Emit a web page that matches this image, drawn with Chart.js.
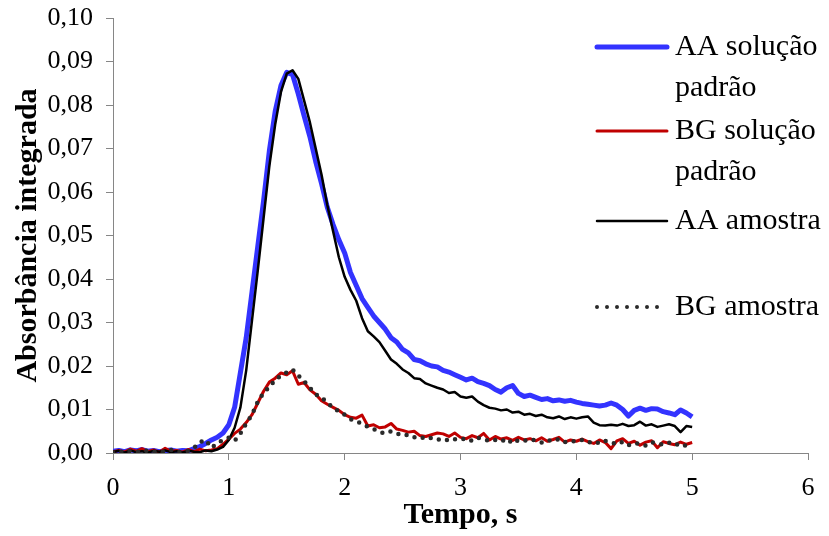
<!DOCTYPE html>
<html>
<head>
<meta charset="utf-8">
<script src="https://cdn.jsdelivr.net/npm/chart.js@4.4.1/dist/chart.umd.min.js"></script>
<style>
html,body{margin:0;padding:0;background:#fff;}
#wrap{width:829px;height:536px;position:relative;}
</style>
</head>
<body>
<div id="wrap"><canvas id="c" width="829" height="536"></canvas></div>
<script>
// time axis (s)
const times = [0,0.05,0.1,0.15,0.2,0.25,0.3,0.35,0.4,0.45,0.5,0.55,0.6,0.65,0.7,0.75,0.8,0.85,0.9,0.95,
1,1.05,1.1,1.15,1.2,1.25,1.3,1.35,1.4,1.45,1.5,1.55,1.6,1.65,1.7,1.75,1.8,1.85,1.9,1.95,
2,2.05,2.1,2.15,2.2,2.25,2.3,2.35,2.4,2.45,2.5,2.55,2.6,2.65,2.7,2.75,2.8,2.85,2.9,2.95,
3,3.05,3.1,3.15,3.2,3.25,3.3,3.35,3.4,3.45,3.5,3.55,3.6,3.65,3.7,3.75,3.8,3.85,3.9,3.95,
4,4.05,4.1,4.15,4.2,4.25,4.3,4.35,4.4,4.45,4.5,4.55,4.6,4.65,4.7,4.75,4.8,4.85,4.9,4.95,5];

const aaPadrao = [0.0004,0.0006,0.0003,0.0007,0.0005,0.0008,0.0004,0.0006,0.0003,0.0005,0.0007,0.0004,0.0006,0.0005,
0.0010,0.0015,0.0022,0.0030,0.0036,0.0046,
0.0065,0.0105,0.0185,0.0265,0.0370,0.0475,0.0580,0.0695,0.0785,0.0845,0.0875,0.0870,0.0825,0.0775,0.0727,0.0670,0.0620,0.0565,0.0525,0.0490,
0.0460,0.0415,0.0385,0.0355,0.0335,0.0315,0.0300,0.0285,0.0265,0.0255,0.0238,0.0230,0.0215,0.0212,0.0205,0.0200,0.0198,0.0190,0.0186,0.0180,
0.0174,0.0168,0.0172,0.0164,0.0160,0.0155,0.0146,0.0140,0.0150,0.0155,0.0137,0.0130,0.0133,0.0128,0.0123,0.0125,0.0120,0.0122,0.0119,0.0121,
0.0117,0.0114,0.0112,0.0110,0.0108,0.0110,0.0115,0.0110,0.0100,0.0085,0.0098,0.0103,0.0098,0.0102,0.0101,0.0095,0.0092,0.0088,0.0099,0.0092,0.0083];

const bgPadrao = [0.0003,0.0006,0.0002,0.0009,0.0004,0.0010,0.0003,0.0007,0.0002,0.0011,0.0004,0.0006,0.0002,0.0008,0.0003,0.0009,0.0005,0.0007,
0.0010,0.0020,
0.0032,0.0045,0.0055,0.0070,0.0088,0.0115,0.0142,0.0163,0.0172,0.0184,0.0180,0.0189,0.0158,0.0162,0.0145,0.0135,0.0120,0.0112,0.0105,0.0098,
0.0088,0.0082,0.0080,0.0087,0.0062,0.0065,0.0058,0.0060,0.0068,0.0055,0.0052,0.0048,0.0050,0.0040,0.0038,0.0042,0.0046,0.0044,0.0038,0.0046,
0.0036,0.0033,0.0040,0.0035,0.0045,0.0030,0.0038,0.0032,0.0035,0.0029,0.0036,0.0030,0.0033,0.0028,0.0035,0.0027,0.0031,0.0036,0.0025,0.0030,
0.0027,0.0032,0.0026,0.0022,0.0030,0.0024,0.0010,0.0028,0.0033,0.0022,0.0027,0.0018,0.0025,0.0028,0.0012,0.0026,0.0022,0.0019,0.0025,0.0020,0.0024];

const aaAmostra = [0.0002,0.0005,0.0001,0.0006,0.0002,0.0004,0.0001,0.0005,0.0003,0.0006,0.0002,0.0004,0.0001,0.0005,0.0003,0.0002,0.0006,0.0004,
0.0008,0.0014,
0.0030,0.0058,0.0105,0.0190,0.0305,0.0420,0.0540,0.0660,0.0755,0.0830,0.0872,0.0880,0.0860,0.0810,0.0760,0.0700,0.0640,0.0570,0.0510,0.0450,
0.0405,0.0375,0.0350,0.0310,0.0280,0.0268,0.0255,0.0235,0.0215,0.0205,0.0192,0.0184,0.0172,0.0170,0.0160,0.0155,0.0150,0.0146,0.0138,0.0140,
0.0130,0.0127,0.0130,0.0118,0.0110,0.0104,0.0102,0.0098,0.0100,0.0093,0.0095,0.0088,0.0090,0.0085,0.0088,0.0082,0.0080,0.0084,0.0078,0.0082,
0.0079,0.0082,0.0084,0.0070,0.0064,0.0063,0.0065,0.0063,0.0067,0.0062,0.0064,0.0072,0.0063,0.0066,0.0060,0.0063,0.0066,0.0062,0.0048,0.0062,0.0060];

const bgAmostra = [0.0002,0.0004,0.0001,0.0005,0.0003,0.0002,0.0006,0.0003,0.0001,0.0004,0.0007,0.0003,0.0002,0.0005,
0.0012,0.0025,0.0030,0.0012,0.0022,0.0030,
0.0035,0.0028,0.0045,0.0068,0.0088,0.0118,0.0138,0.0152,0.0168,0.0178,0.0185,0.0192,0.0178,0.0165,0.0150,0.0135,0.0128,0.0115,0.0105,0.0095,
0.0088,0.0078,0.0072,0.0068,0.0060,0.0055,0.0048,0.0045,0.0050,0.0045,0.0040,0.0042,0.0036,0.0038,0.0032,0.0035,0.0030,0.0033,0.0028,0.0032,
0.0030,0.0034,0.0028,0.0035,0.0032,0.0027,0.0030,0.0026,0.0033,0.0022,0.0030,0.0028,0.0032,0.0029,0.0024,0.0030,0.0027,0.0032,0.0025,0.0028,
0.0026,0.0030,0.0024,0.0027,0.0022,0.0028,0.0024,0.0020,0.0026,0.0018,0.0023,0.0021,0.0017,0.0025,0.0022,0.0019,0.0024,0.0018,0.0022,0.0016,0.0020];

const seriesLabels = ['AA solução padrão', 'BG solução padrão', 'AA amostra', 'BG amostra'];
const xTickLabels = ['0','1','2','3','4','5','6'];
const yTickLabels = ['0,00','0,01','0,02','0,03','0,04','0,05','0,06','0,07','0,08','0,09','0,10'];
const xTitle = 'Tempo, s';
const yTitle = 'Absorbância integrada';

const FONT = "'Liberation Serif', 'Times New Roman', serif";
const toPts = arr => arr.map((v, i) => ({x: times[i], y: v}));

const legendPlugin = {
  id: 'sideLegend',
  afterDraw(chart) {
    const ctx = chart.ctx;
    const rows = [47, 131, 221, 307];
    const x0 = 597, x1 = 667, tx = 675, maxW = 829 - tx - 2, lh = 41;
    ctx.save();
    ctx.font = '30px ' + FONT;
    chart.data.datasets.forEach((ds, i) => {
      const y = rows[i];
      ctx.save();
      ctx.strokeStyle = ds.borderColor;
      ctx.lineWidth = ds.legendWidth || ds.borderWidth;
      ctx.lineCap = 'round';
      ctx.setLineDash(ds.legendDash || []);
      ctx.beginPath(); ctx.moveTo(x0, y); ctx.lineTo(x1, y); ctx.stroke();
      ctx.restore();
      const words = ds.label.split(' ');
      const lines = []; let cur = '';
      words.forEach(w => {
        const t = cur ? cur + ' ' + w : w;
        if (ctx.measureText(t).width > maxW && cur) { lines.push(cur); cur = w; } else cur = t;
      });
      if (cur) lines.push(cur);
      ctx.fillStyle = '#000';
      ctx.textBaseline = 'middle';
      ctx.textAlign = 'left';
      lines.forEach((ln, k) => ctx.fillText(ln, tx, y + k * lh));
    });
    ctx.restore();
  }
};

new Chart(document.getElementById('c'), {
  type: 'line',
  data: {
    datasets: [
      {label: seriesLabels[0], data: toPts(aaPadrao), borderColor: '#3333FF', borderWidth: 5, order: 4, legendWidth: 5},
      {label: seriesLabels[1], data: toPts(bgPadrao), borderColor: '#C00000', borderWidth: 3, order: 3},
      {label: seriesLabels[2], data: toPts(aaAmostra), borderColor: '#000000', borderWidth: 2.5, order: 2},
      {label: seriesLabels[3], data: toPts(bgAmostra), borderColor: '#2a2a2a', borderWidth: 4.5, order: 1,
       borderDash: [0, 8.5], borderCapStyle: 'round', legendDash: [0, 10], legendWidth: 4}
    ]
  },
  options: {
    responsive: false,
    animation: false,
    layout: {padding: {left: 0, right: 21, top: 18, bottom: 0}},
    elements: {point: {radius: 0}, line: {tension: 0, borderJoinStyle: 'round', fill: false}},
    plugins: {legend: {display: false}, tooltip: {enabled: false}},
    scales: {
      x: {
        type: 'linear', min: 0, max: 6,
        afterFit: s => { s.height = 83; s.paddingRight = 0; s.paddingLeft = 0; },
        afterBuildTicks: s => { s.ticks = xTickLabels.map(t => ({value: Number(t)})); },
        ticks: {stepSize: 1, color: '#000', font: {family: FONT, size: 26}, padding: 13,
                callback: (v, i) => xTickLabels[i]},
        grid: {display: true, drawOnChartArea: false, drawTicks: true, tickLength: 7, color: '#868686', lineWidth: 1},
        border: {display: true, color: '#868686', width: 1},
        title: {display: true, text: xTitle, color: '#000', font: {family: FONT, size: 30, weight: 'bold'}, padding: {top: 0, bottom: 3}}
      },
      y: {
        min: 0, max: 0.1,
        afterFit: s => { s.width = 113; s.paddingTop = 0; s.paddingBottom = 0; },
        afterBuildTicks: s => { s.ticks = yTickLabels.map(t => ({value: Number(t.replace(',', '.'))})); },
        ticks: {stepSize: 0.01, color: '#000', font: {family: FONT, size: 26}, padding: 13,
                callback: (v, i) => yTickLabels[i]},
        grid: {display: true, drawOnChartArea: false, drawTicks: true, tickLength: 7, color: '#868686', lineWidth: 1},
        border: {display: true, color: '#868686', width: 1},
        title: {display: true, text: yTitle, color: '#000', font: {family: FONT, size: 30, weight: 'bold'}, padding: {top: 10, bottom: 0}}
      }
    }
  },
  plugins: [legendPlugin]
});
</script>
</body>
</html>
